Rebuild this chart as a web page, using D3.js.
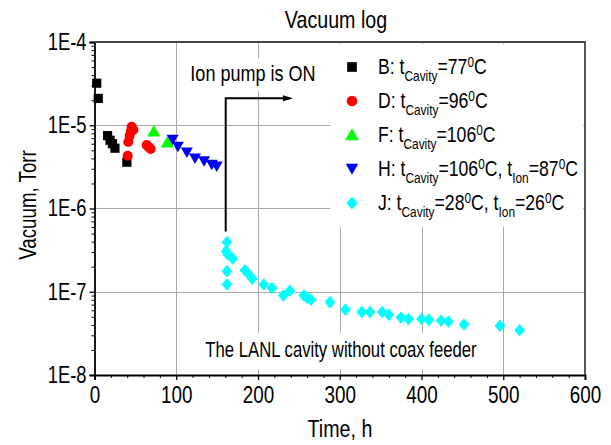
<!DOCTYPE html>
<html>
<head>
<meta charset="utf-8">
<script src="https://cdn.jsdelivr.net/npm/d3@7"></script>
<style>
  html, body { margin: 0; padding: 0; background: #fff; }
  svg { display: block; }
  text { font-family: 'Liberation Sans', Arial, sans-serif; fill: #000; }
</style>
</head>
<body>
<svg id="chart" width="611" height="445"></svg>
<script>
// ---- data (hours, Torr) ----
const seriesB = [[2.7, 3.2e-5], [4.6, 2.1e-5], [16, 7.5e-6], [19, 6.6e-6], [22, 6.0e-6], [25, 5.3e-6], [39.6, 3.6e-6]];
const seriesD = [[40.6, 4.3e-6], [41.3, 6.3e-6], [43, 7.5e-6], [44.5, 8.5e-6], [45.5, 9.6e-6], [47.5, 8.8e-6], [63.8, 5.8e-6], [66, 5.5e-6], [68.7, 5.2e-6]];
const seriesF = [[72.5, 8.4e-6], [89, 6.2e-6]];
const seriesH = [[95.5, 6.7e-6], [102, 5.5e-6], [113, 4.7e-6], [123, 4.0e-6], [134, 3.7e-6], [143.5, 3.35e-6], [149.5, 3.2e-6]];
const seriesJ = [[162, 3.93e-7], [161, 3.06e-7], [163, 2.8e-7], [169, 2.5e-7], [162, 1.76e-7], [162, 1.22e-7],
  [184, 1.81e-7], [188, 1.65e-7], [193, 1.43e-7], [207, 1.22e-7], [217, 1.11e-7], [231, 9.0e-8], [239, 1.03e-7],
  [256, 9.0e-8], [260, 8.5e-8], [265, 8.0e-8], [288, 7.5e-8], [307, 6.1e-8], [327, 5.7e-8], [337, 5.7e-8],
  [352, 5.7e-8], [360, 5.3e-8], [375, 4.9e-8], [384, 4.7e-8], [400, 4.7e-8], [409, 4.6e-8], [424, 4.5e-8],
  [433, 4.4e-8], [452, 4.05e-8], [496, 3.9e-8], [520, 3.45e-8]];

const legendLetters = ["B", "D", "F", "H", "J"];
const legendCavity = ["77", "96", "106", "106", "28"];
const legendIon = [null, null, null, "87", "26"];
const seriesColors = ["#000000", "#ff0000", "#00ff00", "#0000ff", "#00ffff"];
const seriesShapes = ["square", "circle", "triangleUp", "triangleDown", "diamond"];

const xTicks = [0, 100, 200, 300, 400, 500, 600];
const yTicks = [1e-8, 1e-7, 1e-6, 1e-5, 1e-4];
const yTickLabels = ["1E-8", "1E-7", "1E-6", "1E-5", "1E-4"];

const titleText = "Vacuum log";
const xLabel = "Time, h";
const yLabel = "Vacuum, Torr";
const noteTop = "Ion pump is ON";
const noteBottom = "The LANL cavity without coax feeder";
const arrowPath = [[160.5, 5.3e-7], [160.5, 2.11e-5], [239, 2.11e-5]];

// ---- layout ----
const NARROW = 0.82;
const L = 94.5, R = 585, T = 42, B = 375;
const svg = d3.select("#chart");
const x = d3.scaleLinear().domain([0, 600]).range([L, R]);
const y = d3.scaleLog().domain([1e-8, 1e-4]).range([B, T]);

const allSeries = [seriesB, seriesD, seriesF, seriesH, seriesJ];

function shapePath(kind) {
  switch (kind) {
    case "square": return "M-4.6,-4.6H4.6V4.6H-4.6Z";
    case "circle": return d3.symbol().type(d3.symbolCircle).size(80)();
    case "triangleUp": return "M0,-6.5L6.5,5L-6.5,5Z";
    case "triangleDown": return "M0,5.5L6,-5L-6,-5Z";
    case "diamond": return "M0,-6.3L5.4,0L0,6.3L-5.4,0Z";
  }
}

function narrowText(px, py, size, str, anchor, rotate, sx) {
  return svg.append("text")
    .attr("transform", `translate(${px},${py})${rotate ? " rotate(" + rotate + ")" : ""} scale(${sx || NARROW},1)`)
    .attr("text-anchor", anchor || "start")
    .attr("font-size", size).text(str);
}

// gridlines
const grid = svg.append("g").attr("stroke", "#a8a8a8").attr("stroke-width", 1);
grid.selectAll("line.gx").data(xTicks.filter(d => d > 0 && d < 600)).join("line")
  .attr("x1", d => Math.round(x(d)) + 0.5).attr("x2", d => Math.round(x(d)) + 0.5)
  .attr("y1", T).attr("y2", B);
grid.selectAll("line.gy").data(yTicks.filter(d => d > 1e-8 && d < 1e-4)).join("line")
  .attr("y1", d => Math.round(y(d)) + 0.5).attr("y2", d => Math.round(y(d)) + 0.5)
  .attr("x1", L).attr("x2", R);

// white boxes behind text
svg.append("rect").attr("x", 330).attr("y", 44).attr("width", 253).attr("height", 183).attr("fill", "#fff");
svg.append("rect").attr("x", 186).attr("y", 58).attr("width", 136).attr("height", 33).attr("fill", "#fff");
svg.append("rect").attr("x", 200).attr("y", 333).attr("width", 282).attr("height", 36).attr("fill", "#fff");

// annotations
narrowText(253, 81, 22, noteTop, "middle");
narrowText(341, 357, 22, noteBottom, "middle", null, 0.76);

const line = d3.line().x(d => x(d[0])).y(d => y(d[1]));
svg.append("path").attr("d", line(arrowPath)).attr("fill", "none")
  .attr("stroke", "#000").attr("stroke-width", 2);
const tip = arrowPath[arrowPath.length - 1];
svg.append("path")
  .attr("d", `M${x(tip[0]) + 3},${y(tip[1])}L${x(tip[0]) - 7},${y(tip[1]) - 3}L${x(tip[0]) - 7},${y(tip[1]) + 3}Z`)
  .attr("fill", "#000");

// data marks
allSeries.forEach((s, i) => {
  svg.append("g").selectAll("path").data(s).join("path")
    .attr("transform", d => `translate(${x(d[0])},${y(d[1])})`)
    .attr("d", shapePath(seriesShapes[i]))
    .attr("fill", seriesColors[i]);
});

// axes
const yAxis = d3.axisLeft(y).tickValues(yTicks).tickSize(5).tickPadding(3)
  .tickFormat((d, i) => yTickLabels[i]);
const gy = svg.append("g").attr("transform", `translate(${L},0)`).call(yAxis);
gy.selectAll(".tick text").attr("x", -8 / 0.8).attr("transform", "scale(0.8,1)");
const yMinor = [];
for (let e = -8; e < -4; e++) for (let k = 2; k <= 9; k++) yMinor.push(k * Math.pow(10, e));
svg.append("g").attr("transform", `translate(${L},0)`)
  .call(d3.axisLeft(y).tickValues(yMinor).tickSize(3).tickFormat(""))
  .call(g => g.select(".domain").remove());

const xAxis = d3.axisBottom(x).tickValues(xTicks).tickSize(5).tickPadding(7).tickFormat(d3.format("d"));
const gx = svg.append("g").attr("transform", `translate(0,${B})`).call(xAxis);
gx.selectAll(".tick text").attr("transform", `scale(${NARROW},1)`);
const xMinor = d3.range(0, 601, 20).filter(d => d % 100 !== 0);
svg.append("g").attr("transform", `translate(0,${B})`)
  .call(d3.axisBottom(x).tickValues(xMinor).tickSize(3).tickFormat(""))
  .call(g => g.select(".domain").remove());

[gy, gx].forEach(g => {
  g.selectAll("text").attr("font-size", 23)
    .attr("font-family", "'Liberation Sans', Arial, sans-serif");
  g.selectAll("line").attr("stroke-width", 1.3);
  g.select(".domain").attr("stroke-width", 1.8);
});
svg.selectAll(".tick line").attr("stroke", "#000");

// top and right frame
svg.append("path").attr("d", `M${L},${T}H${R}V${B}`).attr("fill", "none")
  .attr("stroke", "#444").attr("stroke-width", 1.8);

// titles
narrowText(336, 28, 24, titleText, "middle");
narrowText(340, 437, 24, xLabel, "middle");
narrowText(36, 205, 24, yLabel, "middle", -90, 0.78);

// legend
const rowY = [67, 101, 135, 169, 203];
legendLetters.forEach((letter, i) => {
  const g = svg.append("g").attr("transform", `translate(352,${rowY[i]})`);
  g.append("path").attr("d", shapePath(seriesShapes[i])).attr("fill", seriesColors[i])
    .attr("transform", "scale(1.05)");
  const t = g.append("text").attr("transform", `translate(26,7) scale(${NARROW},1)`).attr("font-size", 21.5);
  t.append("tspan").text(`${letter}: t`);
  t.append("tspan").attr("font-size", 14.5).attr("dy", 7).text("Cavity");
  t.append("tspan").attr("dy", -7).text(`=${legendCavity[i]}`);
  t.append("tspan").attr("font-size", 14.5).attr("dy", -7).text("0");
  t.append("tspan").attr("dy", 7).text(legendIon[i] ? "C, t" : "C");
  if (legendIon[i]) {
    t.append("tspan").attr("font-size", 14.5).attr("dy", 7).text("Ion");
    t.append("tspan").attr("dy", -7).text(`=${legendIon[i]}`);
    t.append("tspan").attr("font-size", 14.5).attr("dy", -7).text("0");
    t.append("tspan").attr("dy", 7).text("C");
  }
});
</script>
</body>
</html>
